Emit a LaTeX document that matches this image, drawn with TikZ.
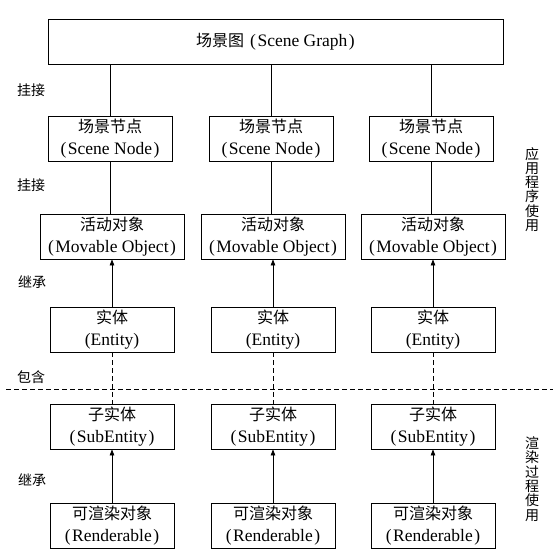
\documentclass[tikz,border=0pt]{standalone}
\usepackage{fontspec}
\setmainfont{Liberation Serif}
\newfontfamily\cjk{Noto Sans CJK SC}
\usetikzlibrary{arrows.meta}
\newcommand{\zh}[1]{{\cjk\fontsize{16}{22}\selectfont #1}}
\newcommand{\lp}{(\kern1.5pt}
\newcommand{\rp}{\kern1.5pt)}
\begin{document}
\begin{tikzpicture}[x=1pt,y=-1pt,
  box/.style={draw, line width=0.8pt, inner sep=0pt, align=center,
    font=\fontsize{17.5}{22}\selectfont, minimum height=45pt, minimum width=124pt},
  widebox/.style={box, minimum width=144pt},
  lbl/.style={font=\cjk\fontsize{14}{16}\selectfont, inner sep=0pt},
  vlbl/.style={font=\cjk\fontsize{14}{14.3}\selectfont, inner sep=0pt, align=center},
  conn/.style={line width=0.8pt},
  inh/.style={line width=0.8pt, -{Triangle[length=6pt,width=4.5pt]}},
  contain/.style={line width=0.8pt, dash pattern=on 5pt off 3pt},
]
\useasboundingbox (0,0) rectangle (553,559);

% top
\node[box, minimum width=455pt] (sg) at (275.5,41.5) {\zh{场景图}\hspace{6pt}\lp Scene Graph\rp};

% columns
\foreach \i/\x in {1/110,2/271,3/431}{
  \node[box] (sn\i) at (\x,138.5) {\zh{场景节点}\\\lp Scene Node\rp};
  \node[widebox] (mo\i) at (\x+2,236.5) {\zh{活动对象}\\\lp Movable Object\rp};
  \node[box] (en\i) at (\x+2,329.5) {\zh{实体}\\(Entity)};
  \node[box] (se\i) at (\x+2,426.5) {\zh{子实体}\\\lp SubEntity\rp};
  \node[box] (re\i) at (\x+2,525.5) {\zh{可渲染对象}\\\lp Renderable\rp};
  \draw[conn] (sn\i.north) -- (sn\i.north |- sg.south);
  \draw[conn] (sn\i.south) -- (sn\i.south |- mo\i.north);
  \draw[inh] (en\i.north) -- (mo\i.south);
  \draw[contain] (en\i.south) -- (se\i.north);
  \draw[inh] (re\i.north) -- (se\i.south);
}

% separator
\coordinate (dl) at (6,389);
\coordinate (dr) at (553,389);
\draw[contain] (dl) -- (dr);

% side labels
\node[lbl] (l1) at (31,90) {挂接};
\node[lbl] (l2) at (31,185) {挂接};
\node[lbl] (l3) at (32,282) {继承};
\node[lbl] (l4) at (31,377) {包含};
\node[lbl] (l5) at (32,480) {继承};

\node[vlbl] (v1) at (532,189.5) {应\\用\\程\\序\\使\\用};
\node[vlbl] (v2) at (532,479) {渲\\染\\过\\程\\使\\用};
\end{tikzpicture}
\end{document}
